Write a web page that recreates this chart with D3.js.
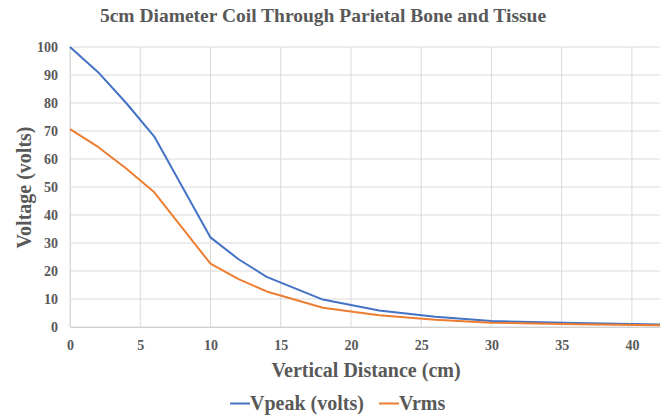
<!DOCTYPE html>
<html><head><meta charset="utf-8">
<script src="https://cdn.jsdelivr.net/npm/d3@7"></script>
<style>body{margin:0;background:#fff}svg{display:block}
svg text{font-family:"Liberation Serif","Times New Roman","DejaVu Serif",serif !important;font-weight:bold;fill:#595959}</style>
</head><body>
<svg id="c" width="664" height="419"></svg>
<script>
const distance = [0, 2, 4, 6, 10, 12, 14, 18, 22, 26, 30, 36, 42];
const vpeak = [100, 91, 80, 68, 32, 24.2, 17.9, 9.8, 5.9, 3.7, 2.1, 1.4, 0.9];
const vrms = [70.7, 64.3, 56.6, 48.1, 22.6, 17.1, 12.7, 6.9, 4.2, 2.6, 1.5, 1.0, 0.64];
const xTicks = [0, 5, 10, 15, 20, 25, 30, 35, 40];
const yTicks = [0, 10, 20, 30, 40, 50, 60, 70, 80, 90, 100];
const seriesNames = ["Vpeak (volts)", "Vrms"];
const colors = ["#4472C4", "#ED7D31"];

const svg = d3.select("#c");
const x = d3.scaleLinear().domain([0, 42]).range([70, 660]);
const y = d3.scaleLinear().domain([0, 100]).range([327, 47]);

svg.append("g").selectAll("line").data(yTicks).join("line")
  .attr("x1", x(0)).attr("x2", x(42)).attr("y1", d => y(d)).attr("y2", d => y(d))
  .attr("stroke", "#d9d9d9").attr("stroke-width", 1);
svg.append("g").selectAll("line").data(xTicks).join("line")
  .attr("y1", y(0)).attr("y2", y(100)).attr("x1", d => x(d)).attr("x2", d => x(d))
  .attr("stroke", "#d9d9d9").attr("stroke-width", 1);

const xAxis = svg.append("g").attr("transform", `translate(0,${y(0)})`)
  .call(d3.axisBottom(x).tickValues(xTicks).tickSize(0).tickPadding(13));
xAxis.select(".domain").attr("stroke", "#d0d0d0");
const yAxis = svg.append("g").attr("transform", `translate(${x(0)},0)`)
  .call(d3.axisLeft(y).tickValues(yTicks).tickSize(0).tickPadding(12));
yAxis.select(".domain").attr("stroke", "#d9d9d9");
svg.selectAll(".tick text").attr("font-size", 14);

const line = d3.line().x((d, i) => x(distance[i])).y(d => y(d));
[vpeak, vrms].forEach((s, k) => {
  svg.append("path").datum(s).attr("d", line).attr("fill", "none")
    .attr("stroke", colors[k]).attr("stroke-width", 2).attr("stroke-linejoin", "round");
});

svg.append("text").attr("x", 323).attr("y", 21.5).attr("text-anchor", "middle")
  .attr("font-size", 19.5).text("5cm Diameter Coil Through Parietal Bone and Tissue");
svg.append("text").attr("x", 366).attr("y", 377).attr("text-anchor", "middle")
  .attr("font-size", 20).text("Vertical Distance (cm)");
svg.append("text").attr("transform", "translate(31,187.5) rotate(-90)").attr("text-anchor", "middle")
  .attr("font-size", 20).text("Voltage (volts)");

const lg = svg.append("g");
const legendX = [230, 379];
seriesNames.forEach((n, k) => {
  lg.append("line").attr("x1", legendX[k]).attr("x2", legendX[k] + 20)
    .attr("y1", 403.5).attr("y2", 403.5).attr("stroke", colors[k]).attr("stroke-width", 2);
  lg.append("text").attr("x", legendX[k] + 20).attr("y", 410)
    .attr("font-size", 20).text(n);
});
</script>
</body></html>
